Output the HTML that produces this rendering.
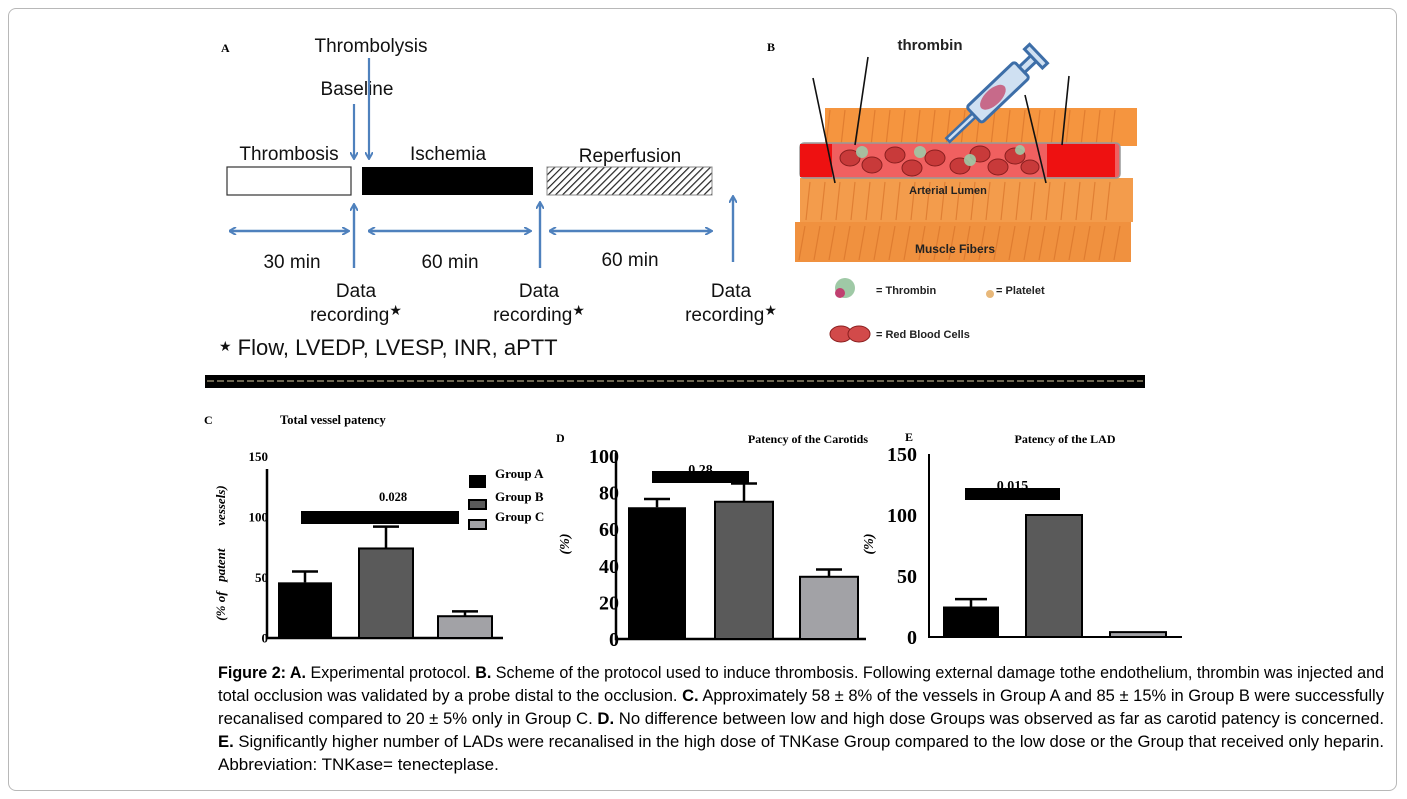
<!DOCTYPE html>
<html><head><meta charset="utf-8">
<style>
html,body{margin:0;padding:0;background:#fff;}
body{width:1407px;height:799px;position:relative;overflow:hidden;font-family:"Liberation Sans",Arial,sans-serif;}
#frame{position:absolute;left:8px;top:8px;width:1389px;height:783px;border:1px solid #b8b8b8;border-radius:8px;box-sizing:border-box;}
svg{position:absolute;left:0;top:0;}
.ser{font-family:"Liberation Serif","Times New Roman",serif;font-weight:bold;}
.sans{font-family:"Liberation Sans",Arial,sans-serif;}
.cap{font-family:"Liberation Sans",Arial,sans-serif;font-size:17px;fill:#000;}
</style></head>
<body>
<div id="frame"></div>
<svg id="fig" width="1407" height="799" viewBox="0 0 1407 799">
<defs>
<pattern id="hatch" width="5" height="5" patternUnits="userSpaceOnUse" patternTransform="rotate(45)">
<rect width="5" height="5" fill="#fff"/><line x1="0" y1="0" x2="0" y2="5" stroke="#222" stroke-width="2.4"/>
</pattern>
<marker id="ah" markerWidth="8" markerHeight="8" refX="6" refY="4" orient="auto" markerUnits="userSpaceOnUse">
<path d="M0,0 L7,4 L0,8" fill="none" stroke="#4f81bd" stroke-width="2"/>
</marker>
<marker id="ahs" markerWidth="8" markerHeight="8" refX="1" refY="4" orient="auto" markerUnits="userSpaceOnUse">
<path d="M7,0 L0,4 L7,8" fill="none" stroke="#4f81bd" stroke-width="2"/>
</marker>
</defs>

<g id="panel-a">
<text x="221" y="52" class="ser" font-size="12">A</text>
<text x="371" y="52" class="sans" font-size="19" text-anchor="middle" fill="#111">Thrombolysis</text>
<text x="357" y="95" class="sans" font-size="19" text-anchor="middle" fill="#111">Baseline</text>
<line x1="369" y1="58" x2="369" y2="158" stroke="#4f81bd" stroke-width="2.2" marker-end="url(#ah)"/>
<line x1="354" y1="104" x2="354" y2="158" stroke="#4f81bd" stroke-width="2.2" marker-end="url(#ah)"/>
<text x="289" y="160" class="sans" font-size="19" text-anchor="middle" fill="#111">Thrombosis</text>
<text x="448" y="160" class="sans" font-size="19" text-anchor="middle" fill="#111">Ischemia</text>
<text x="630" y="162" class="sans" font-size="19" text-anchor="middle" fill="#111">Reperfusion</text>
<rect x="227" y="167" width="124" height="28" fill="#fff" stroke="#333" stroke-width="1.2"/>
<rect x="362" y="167" width="171" height="28" fill="#000"/>
<rect x="547" y="167" width="165" height="28" fill="url(#hatch)" stroke="#888" stroke-width="1"/>
<g stroke="#4f81bd" stroke-width="2.4">
<line x1="354" y1="268" x2="354" y2="205" marker-end="url(#ah)"/>
<line x1="540" y1="268" x2="540" y2="203" marker-end="url(#ah)"/>
<line x1="733" y1="262" x2="733" y2="197" marker-end="url(#ah)"/>
<line x1="230" y1="231" x2="348" y2="231" marker-end="url(#ah)" marker-start="url(#ahs)"/>
<line x1="369" y1="231" x2="530" y2="231" marker-end="url(#ah)" marker-start="url(#ahs)"/>
<line x1="550" y1="231" x2="711" y2="231" marker-end="url(#ah)" marker-start="url(#ahs)"/>
</g>
<g class="sans" font-size="19" fill="#111" text-anchor="middle">
<text x="292" y="268">30 min</text><text x="450" y="268">60 min</text><text x="630" y="266">60 min</text>
</g>
<g class="sans" font-size="19" fill="#111" text-anchor="middle">
<text x="356" y="297">Data</text><text x="356" y="321">recording<tspan font-size="14" dy="-6">★</tspan></text>
<text x="539" y="297">Data</text><text x="539" y="321">recording<tspan font-size="14" dy="-6">★</tspan></text>
<text x="731" y="297">Data</text><text x="731" y="321">recording<tspan font-size="14" dy="-6">★</tspan></text>
</g>
<text x="219" y="355" class="sans" font-size="22" fill="#111"><tspan font-size="14" dy="-4">★</tspan><tspan dy="4"> Flow, LVEDP, LVESP, INR, aPTT</tspan></text>
</g>

<rect x="205" y="375" width="940" height="13" fill="#000"/>
<line x1="207" y1="381" x2="1143" y2="381" stroke="#6b6450" stroke-width="2" stroke-dasharray="7,3"/>

<g id="panel-b">
<text x="767" y="51" class="ser" font-size="12">B</text>
<rect x="825" y="108" width="312" height="38" fill="#f5953f"/>
<rect x="800" y="178" width="333" height="44" fill="#f39c4c"/>
<rect x="795" y="222" width="336" height="40" fill="#f0913f"/>
<g stroke="#d9742a" stroke-width="1.2" opacity="0.7">
<path d="M830,110 l-4,36 M845,110 l-4,36 M860,110 l-4,36 M875,110 l-4,36 M890,110 l-4,36 M905,110 l-4,36 M920,110 l-4,36 M935,110 l-4,36 M950,110 l-4,36 M965,110 l-4,36 M980,110 l-4,36 M995,110 l-4,36 M1010,110 l-4,36 M1025,110 l-4,36 M1040,110 l-4,36 M1055,110 l-4,36 M1070,110 l-4,36 M1085,110 l-4,36 M1100,110 l-4,36 M1115,110 l-4,36"/>
<path d="M810,182 l-4,38 M825,182 l-4,38 M840,182 l-4,38 M855,182 l-4,38 M870,182 l-4,38 M885,182 l-4,38 M900,182 l-4,38 M915,182 l-4,38 M930,182 l-4,38 M945,182 l-4,38 M960,182 l-4,38 M975,182 l-4,38 M990,182 l-4,38 M1005,182 l-4,38 M1020,182 l-4,38 M1035,182 l-4,38 M1050,182 l-4,38 M1065,182 l-4,38 M1080,182 l-4,38 M1095,182 l-4,38 M1110,182 l-4,38"/>
<path d="M805,226 l-6,34 M820,226 l-6,34 M835,226 l-6,34 M850,226 l-6,34 M865,226 l-6,34 M880,226 l-6,34 M895,226 l-6,34 M910,226 l-6,34 M925,226 l-6,34 M940,226 l-6,34 M955,226 l-6,34 M970,226 l-6,34 M985,226 l-6,34 M1000,226 l-6,34 M1015,226 l-6,34 M1030,226 l-6,34 M1045,226 l-6,34 M1060,226 l-6,34 M1075,226 l-6,34 M1090,226 l-6,34 M1105,226 l-6,34 M1120,226 l-6,34"/>
</g>
<rect x="800" y="143" width="320" height="35" rx="4" fill="#f06060" stroke="#999" stroke-width="1.5"/>
<rect x="800" y="144" width="32" height="33" fill="#ee1111"/>
<rect x="1047" y="144" width="68" height="33" fill="#ee1111"/>
<g fill="#c83a3a" stroke="#8a1f1f" stroke-width="1">
<ellipse cx="850" cy="158" rx="10" ry="8"/><ellipse cx="872" cy="165" rx="10" ry="8"/><ellipse cx="895" cy="155" rx="10" ry="8"/><ellipse cx="912" cy="168" rx="10" ry="8"/><ellipse cx="935" cy="158" rx="10" ry="8"/><ellipse cx="960" cy="166" rx="10" ry="8"/><ellipse cx="980" cy="154" rx="10" ry="8"/><ellipse cx="998" cy="167" rx="10" ry="8"/><ellipse cx="1015" cy="156" rx="10" ry="8"/><ellipse cx="1030" cy="167" rx="9" ry="7"/>
</g>
<g fill="#9fc9a6" opacity="0.9"><circle cx="862" cy="152" r="6"/><circle cx="920" cy="152" r="6"/><circle cx="970" cy="160" r="6"/><circle cx="1020" cy="150" r="5"/></g>
<g stroke="#111" stroke-width="1.6" fill="none">
<path d="M813,78 L835,183"/><path d="M868,57 L855,145"/><path d="M1025,95 L1046,183"/><path d="M1069,76 L1062,145"/>
</g>
<g transform="translate(948 140) rotate(-43.6)">
<rect x="0" y="-2.5" width="36" height="5" fill="#cfe0f2" stroke="#3d6ea8" stroke-width="2.5"/>
<rect x="36" y="-11" width="66" height="22" rx="3" fill="#cfe0f2" stroke="#3d6ea8" stroke-width="3"/>
<ellipse cx="62" cy="0" rx="16" ry="8" fill="#c76a8a"/>
<rect x="102" y="-4" width="16" height="8" fill="#cfe0f2" stroke="#3d6ea8" stroke-width="3"/>
<rect x="118" y="-13" width="7" height="26" fill="#cfe0f2" stroke="#3d6ea8" stroke-width="3"/>
</g>
<text x="930" y="50" class="sans" font-size="15" font-weight="bold" text-anchor="middle" fill="#222">thrombin</text>
<text x="948" y="194" class="sans" font-size="11" font-weight="bold" text-anchor="middle" fill="#222">Arterial Lumen</text>
<text x="955" y="253" class="sans" font-size="12" font-weight="bold" text-anchor="middle" fill="#222">Muscle Fibers</text>
<g>
<circle cx="845" cy="288" r="10" fill="#9fc9a6"/><circle cx="840" cy="293" r="5" fill="#c04070"/>
<text x="876" y="294" class="sans" font-size="11" font-weight="bold" fill="#222">= Thrombin</text>
<circle cx="990" cy="294" r="4" fill="#e8b87a"/>
<text x="996" y="294" class="sans" font-size="11" font-weight="bold" fill="#222">= Platelet</text>
<ellipse cx="841" cy="334" rx="11" ry="8" fill="#d24a4a" stroke="#8a1f1f"/><ellipse cx="859" cy="334" rx="11" ry="8" fill="#d24a4a" stroke="#8a1f1f"/>
<text x="876" y="338" class="sans" font-size="11" font-weight="bold" fill="#222">= Red Blood Cells</text>
</g>
</g>

<text x="204" y="424" class="ser" font-size="12">C</text>
<text x="280" y="424" class="ser" font-size="12.5">Total vessel patency</text>
<text x="556" y="442" class="ser" font-size="12">D</text>
<text x="868" y="443" class="ser" font-size="12" text-anchor="end">Patency of the Carotids</text>
<text x="905" y="441" class="ser" font-size="12">E</text>
<text x="1065" y="443" class="ser" font-size="12" text-anchor="middle">Patency of the LAD</text>
<text transform="translate(225 553) rotate(-90)" class="ser" font-size="13" font-style="italic" font-weight="normal" text-anchor="middle">(% of&#160;&#160;&#160;patent&#160;&#160;&#160;&#160;&#160;&#160;&#160;vessels)</text>
<text transform="translate(569 544) rotate(-90)" class="ser" font-size="14" font-style="italic" text-anchor="middle">(%)</text>
<text transform="translate(873 544) rotate(-90)" class="ser" font-size="14" font-style="italic" text-anchor="middle">(%)</text>
<g id="charts"></g>

<g>
<text class="cap" x="218" y="678" textLength="1166" lengthAdjust="spacingAndGlyphs"><tspan font-weight="bold">Figure 2: A.</tspan> Experimental protocol. <tspan font-weight="bold">B.</tspan> Scheme of the protocol used to induce thrombosis. Following external damage tothe endothelium, thrombin was injected and</text>
<text class="cap" x="218" y="701" textLength="1166" lengthAdjust="spacingAndGlyphs">total occlusion was validated by a probe distal to the occlusion. <tspan font-weight="bold">C.</tspan> Approximately 58 ± 8% of the vessels in Group A and 85 ± 15% in Group B were successfully</text>
<text class="cap" x="218" y="724" textLength="1166" lengthAdjust="spacingAndGlyphs">recanalised compared to 20 ± 5% only in Group C. <tspan font-weight="bold">D.</tspan> No difference between low and high dose Groups was observed as far as carotid patency is concerned.</text>
<text class="cap" x="218" y="747" textLength="1166" lengthAdjust="spacingAndGlyphs"><tspan font-weight="bold">E.</tspan> Significantly higher number of LADs were recanalised in the high dose of TNKase Group compared to the low dose or the Group that received only heparin.</text>
<text class="cap" x="218" y="770">Abbreviation: TNKase= tenecteplase.</text>
</g>
</svg>

<script>
const groups = ["Group A", "Group B", "Group C"];
const totalValues = [46, 74, 18];
const totalErrors = [9, 18, 4];
const totalTicks = [0, 50, 100, 150];
const totalPValue = "0.028";
const carotidValues = [72, 75, 34];
const carotidErrors = [4.5, 10, 4];
const carotidTicks = [0, 20, 40, 60, 80, 100];
const carotidPValue = "0.28";
const ladValues = [25, 100, 4];
const ladErrors = [6, 0, 0];
const ladTicks = [0, 50, 100, 150];
const ladPValue = "0.015";

const NS = "http://www.w3.org/2000/svg";
const root = document.getElementById('charts');
const fills = ["#000000", "#5a5a5a", "#a2a2a6"];
function mk(tag, attrs, parent) {
  const e = document.createElementNS(NS, tag);
  for (const k in attrs) e.setAttribute(k, attrs[k]);
  (parent || root).appendChild(e);
  return e;
}
function drawChart(cfg, values, errors, ticks, pval, prefix) {
  const g = mk('g', {});
  
  
  const y = v => cfg.y0 - v * cfg.k;
  const axis = mk('path', {d: `M${cfg.ax},${cfg.top} L${cfg.ax},${cfg.y0} L${cfg.right},${cfg.y0}`, fill: 'none', stroke: '#000', 'stroke-width': cfg.axw}, g);
  
  
  ticks.forEach(t => {
    const tx = mk('text', {x: cfg.ax + cfg.lblOff, y: y(t) + cfg.fs * 0.35, 'text-anchor': 'end', 'font-size': cfg.fs, class: 'ser'}, g);
    tx.textContent = t;
    
    
  });
  values.forEach((v, i) => {
    const x0 = cfg.bx[i], w = cfg.bw;
    const err = errors[i];
    if (err > 0) {
      const el = mk('path', {d: `M${x0 + w / 2},${y(v)} L${x0 + w / 2},${y(v + err)} M${x0 + w / 2 - cfg.cap},${y(v + err)} L${x0 + w / 2 + cfg.cap},${y(v + err)}`, stroke: '#000', 'stroke-width': 2.5, fill: 'none'}, g);
      
      
    }
    const r = mk('rect', {x: x0, y: y(v), width: w, height: v * cfg.k, fill: fills[i], stroke: '#000', 'stroke-width': i === 0 ? 0 : 2}, g);
    
    
  });
  const sb = mk('rect', {x: cfg.sig[0], y: cfg.sig[1], width: cfg.sig[2], height: cfg.sig[3], fill: '#000'}, g);
  
  
  const pt = mk('text', {x: cfg.sig[0] + cfg.sig[2] / 2 + cfg.pdx, y: cfg.py, 'text-anchor': 'middle', 'font-size': cfg.pfs, class: 'ser', 'font-weight': cfg.pw}, g);
  pt.textContent = pval;
  
  
}
drawChart({ax: 267, top: 469, y0: 638, k: 1.21, right: 503, axw: 2.5, fs: 13, lblOff: 1, bx: [278, 359, 438], bw: 54, cap: 13, sig: [301, 511, 158, 13], pdx: 13, py: 501, pfs: 12.5, pw: 'bold'}, totalValues, totalErrors, totalTicks, totalPValue, 'total-patency');
drawChart({ax: 616, top: 453, y0: 639, k: 1.83, right: 866, axw: 2.5, fs: 20, lblOff: 3, bx: [628, 715, 800], bw: 58, cap: 13, sig: [652, 471, 97, 12], pdx: 0, py: 474, pfs: 14, pw: 'normal'}, carotidValues, carotidErrors, carotidTicks, carotidPValue, 'carotid-patency');
drawChart({ax: 929, top: 454, y0: 637, k: 1.22, right: 1182, axw: 2, fs: 20, lblOff: -12, bx: [943, 1026, 1110], bw: 56, cap: 16, sig: [965, 488, 95, 12], pdx: 0, py: 490, pfs: 14, pw: 'normal'}, ladValues, ladErrors, ladTicks, ladPValue, 'lad-patency');

const lg = mk('g', {});


[475, 498, 518].forEach((yy, i) => {
  const sw = mk('rect', {x: 469, y: yy + (i === 0 ? 0 : 2), width: 17, height: i === 0 ? 13 : 9, fill: fills[i], stroke: '#000', 'stroke-width': i === 0 ? 0 : 2}, lg);
  
  
  const t = mk('text', {x: 495, y: yy + 3, 'font-size': 13, class: 'ser'}, lg);
  t.textContent = groups[i];
  
  
});
</script>
</body></html>
